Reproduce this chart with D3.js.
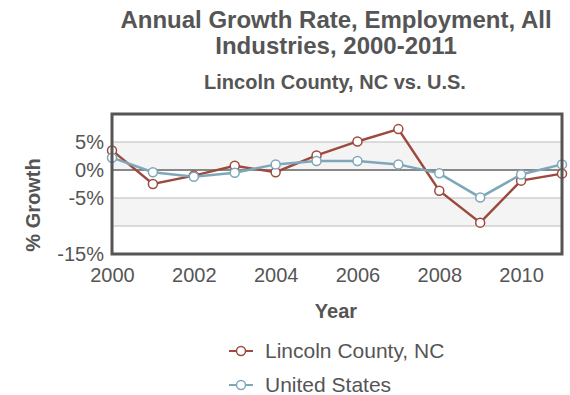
<!DOCTYPE html>
<html><head><meta charset="utf-8">
<script src="https://cdn.jsdelivr.net/npm/d3@7/dist/d3.min.js"></script>
<style>body{margin:0;background:#fff;font-family:Arial,"Liberation Sans",sans-serif;}</style>
</head><body>
<svg id="c" width="570" height="395"></svg>
<script>
const years = [2000,2001,2002,2003,2004,2005,2006,2007,2008,2009,2010,2011];
const lincoln = [3.5,-2.5,-1.0,0.75,-0.4,2.6,5.1,7.3,-3.7,-9.4,-1.9,-0.65];
const us = [2.2,-0.4,-1.2,-0.5,1.0,1.6,1.6,1.0,-0.6,-4.9,-0.8,1.0];
const yTickLabels = [5,0,-5,-15];
const xTickLabels = [2000,2002,2004,2006,2008,2010];
const seriesNames = ["Lincoln County, NC","United States"];
const seriesColors = ["#9c4a3e","#7ea7ba"];

const svg = d3.select("#c");
const L=112, R=562, T=114, B=254;
const x = d3.scaleLinear().domain([2000,2011]).range([L,R]);
const y = d3.scaleLinear().domain([-15,10]).range([B,T]);
const txt="#555";
const FF="Arial,'Liberation Sans',sans-serif";

// bands
[[0,5],[-10,-5]].forEach(b=>{
  svg.append("rect").attr("x",L).attr("width",R-L).attr("y",y(b[1])).attr("height",y(b[0])-y(b[1])).attr("fill","#f4f4f4");
});
// gridlines
[5,-5,-10].forEach(v=>{
  svg.append("line").attr("x1",L).attr("x2",R).attr("y1",y(v)).attr("y2",y(v)).attr("stroke","#d0d0d0").attr("stroke-width",1.5);
});
svg.append("line").attr("x1",L).attr("x2",R).attr("y1",y(0)).attr("y2",y(0)).attr("stroke","#888").attr("stroke-width",2);

// y axis labels
const ya = svg.append("g").attr("transform",`translate(${L},0)`)
  .call(d3.axisLeft(y).tickValues(yTickLabels).tickSize(0).tickPadding(8).tickFormat(d=>d+"%"));
ya.select(".domain").remove();
ya.selectAll("text").attr("fill",txt).style("font-size","20px").style("font-family",FF);

// x axis labels
const xa = svg.append("g").attr("transform",`translate(0,${B})`)
  .call(d3.axisBottom(x).tickValues(xTickLabels).tickSize(0).tickPadding(0).tickFormat(d3.format("d")));
xa.select(".domain").remove();
xa.selectAll("text").attr("dy",null).attr("y",28).attr("fill",txt).style("font-size","20px").style("font-family",FF);

// lines
const line = d3.line().x((d,i)=>x(years[i])).y(d=>y(d));
const data=[lincoln,us];
data.forEach((s,k)=>{
  svg.append("path").attr("d",line(s)).attr("fill","none").attr("stroke",seriesColors[k]).attr("stroke-width",2.5);
});
data.forEach((s,k)=>{
  svg.selectAll(null).data(s).enter().append("circle")
    .attr("cx",(d,i)=>x(years[i])).attr("cy",d=>y(d)).attr("r",4.5)
    .attr("fill","#fff").attr("stroke",seriesColors[k]).attr("stroke-width",1.5);
});

// frame
svg.append("rect").attr("x",L).attr("y",T).attr("width",R-L).attr("height",B-T).attr("fill","none").attr("stroke","#555").attr("stroke-width",3);

// titles
svg.append("text").attr("x",336).attr("y",28).attr("text-anchor","middle").attr("fill",txt).style("font-size","24px").style("font-weight","bold").text("Annual Growth Rate, Employment, All");
svg.append("text").attr("x",336).attr("y",54).attr("text-anchor","middle").attr("fill",txt).style("font-size","24px").style("font-weight","bold").text("Industries, 2000-2011");
svg.append("text").attr("x",335).attr("y",89).attr("text-anchor","middle").attr("fill",txt).style("font-size","20px").style("font-weight","bold").text("Lincoln County, NC vs. U.S.");
svg.append("text").attr("x",336).attr("y",318).attr("text-anchor","middle").attr("fill",txt).style("font-size","20px").style("font-weight","bold").text("Year");
svg.append("text").attr("transform","translate(40,205) rotate(-90)").attr("text-anchor","middle").attr("fill",txt).style("font-size","20px").style("font-weight","bold").text("% Growth");

// legend
seriesNames.forEach((n,k)=>{
  const ly = 351 + k*34;
  const g = svg.append("g");
  g.append("line").attr("x1",229).attr("x2",253).attr("y1",ly).attr("y2",ly).attr("stroke",seriesColors[k]).attr("stroke-width",2);
  g.append("circle").attr("cx",241).attr("cy",ly).attr("r",4.5).attr("fill","#fff").attr("stroke",seriesColors[k]).attr("stroke-width",1.5);
  g.append("text").attr("x",265).attr("y",ly+7).attr("fill",txt).style("font-size","21px").text(n);
});
</script>
</body></html>
